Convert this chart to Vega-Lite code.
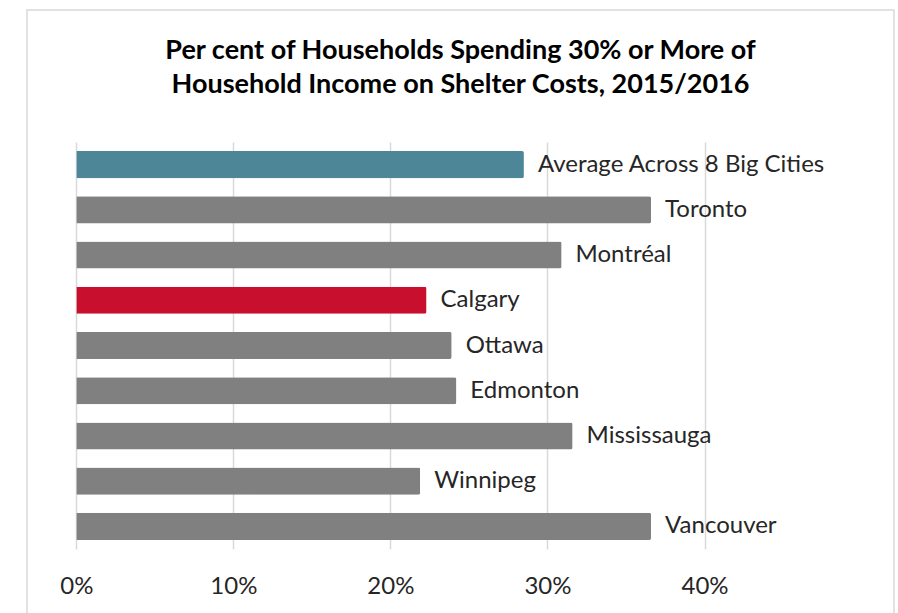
{
  "$schema": "https://vega.github.io/schema/vega-lite/v6.json",
  "width": 867,
  "height": 612,
  "autosize": {"type": "none"},
  "padding": {"left": 27, "top": 10, "right": 4, "bottom": 0},
  "background": "white",
  "config": {
    "view": {"stroke": "#d9d9d9", "strokeWidth": 1.5},
    "font": "Lato"
  },
  "title": {
    "text": ["Per cent of Households Spending 30% or More of", "Household Income on Shelter Costs, 2015/2016"],
    "font": "Lato",
    "fontSize": 27,
    "fontWeight": "bold",
    "color": "#000000",
    "anchor": "middle",
    "baseline": "alphabetic",
    "lineHeight": 34,
    "offset": -110
  },
  "data": {
    "values": [
      {"city": "Average Across 8 Big Cities", "share": 0.285},
      {"city": "Toronto", "share": 0.366},
      {"city": "Montréal", "share": 0.309},
      {"city": "Calgary", "share": 0.223},
      {"city": "Ottawa", "share": 0.239},
      {"city": "Edmonton", "share": 0.242},
      {"city": "Mississauga", "share": 0.316},
      {"city": "Winnipeg", "share": 0.219},
      {"city": "Vancouver", "share": 0.366}
    ]
  },
  "resolve": {"axis": {"x": "independent"}},
  "layer": [
    {
      "mark": {"type": "bar", "cornerRadiusEnd": 2},
      "encoding": {
        "y": {
          "field": "city", "type": "nominal", "sort": null, "axis": null,
          "scale": {"range": [132, 539], "paddingInner": 0.4, "paddingOuter": 0.2}
        },
        "x": {
          "field": "share", "type": "quantitative",
          "scale": {"domain": [0, 0.4], "range": [49.3, 677.5], "nice": false, "zero": false},
          "axis": {
            "orient": "top", "values": [0, 0.1, 0.2, 0.3, 0.4],
            "grid": true, "gridColor": "#d9d9d9", "gridWidth": 1.5,
            "labels": false, "ticks": false, "domain": false, "title": null
          }
        },
        "color": {
          "field": "city", "type": "nominal", "legend": null,
          "scale": {
            "domain": ["Average Across 8 Big Cities", "Toronto", "Montréal", "Calgary", "Ottawa", "Edmonton", "Mississauga", "Winnipeg", "Vancouver"],
            "range": ["#4d8797", "#808080", "#808080", "#c8102e", "#808080", "#808080", "#808080", "#808080", "#808080"]
          }
        }
      }
    },
    {
      "mark": {"type": "text", "align": "left", "baseline": "middle", "dx": 14, "fontSize": 24, "font": "Lato", "color": "#262626"},
      "encoding": {
        "y": {"field": "city", "type": "nominal", "sort": null, "axis": null},
        "x": {
          "field": "share", "type": "quantitative",
          "axis": {
            "orient": "bottom", "values": [0, 0.1, 0.2, 0.3, 0.4], "format": ".0%",
            "grid": false, "ticks": false, "domain": false, "title": null,
            "offset": -73, "labelPadding": 44, "labelBaseline": "alphabetic",
            "labelFlush": false, "labelAlign": "center",
            "labelFontSize": 24, "labelFont": "Lato", "labelColor": "#262626"
          }
        },
        "text": {"field": "city"}
      }
    }
  ]
}
